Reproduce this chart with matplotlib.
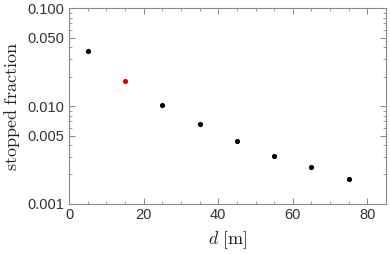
import matplotlib
matplotlib.use("Agg")
import matplotlib.pyplot as plt
from matplotlib.ticker import FixedLocator, NullFormatter, MultipleLocator

plt.rcParams["mathtext.fontset"] = "cm"

d_black = [5, 25, 35, 45, 55, 65, 75]
frac_black = [0.0367, 0.0103, 0.0066, 0.00436, 0.00312, 0.00236, 0.00179]
d_red = [15]
frac_red = [0.0181]
yticks = [0.001, 0.005, 0.010, 0.050, 0.100]
yticklabels = ["0.001", "0.005", "0.010", "0.050", "0.100"]
xticks = [0, 20, 40, 60, 80]

fig = plt.figure(figsize=(3.9, 2.54), dpi=100)
ax = fig.add_axes([0.177, 0.197, 0.813, 0.771])
ax.scatter(d_black, frac_black, s=14, color="black", zorder=3, linewidths=0)
ax.scatter(d_red, frac_red, s=14, color="#e00000", zorder=3, linewidths=0)
ax.set_yscale("log")
ax.set_xlim(0, 85)
ax.set_ylim(0.001, 0.1)

ax.yaxis.set_major_locator(FixedLocator(yticks))
ax.set_yticklabels(yticklabels)
minor = []
for dec in [0.001, 0.01]:
    for k in range(2, 10):
        if k != 5:
            minor.append(dec * k)
ax.yaxis.set_minor_locator(FixedLocator(minor))
ax.yaxis.set_minor_formatter(NullFormatter())
ax.xaxis.set_major_locator(FixedLocator(xticks))
ax.xaxis.set_minor_locator(MultipleLocator(5))

gray = "#888888"
for s in ax.spines.values():
    s.set_color(gray)
    s.set_linewidth(0.8)
ax.tick_params(which="both", direction="in", top=True, right=True, color=gray,
               labelcolor="#333333", labelsize=10.5, labelfontfamily="Liberation Sans")
ax.tick_params(which="major", length=4, width=0.7)
ax.tick_params(which="minor", length=2.2, width=0.6)
ax.tick_params(axis="x", pad=3)

ax.set_ylabel(r"$\mathrm{stopped\ fraction}$", fontsize=13, color="#222222", labelpad=4)
ax.set_xlabel(r"$d\ [\mathrm{m}]$", fontsize=13, color="#222222", labelpad=5)
fig.savefig("out.png", dpi=100)
